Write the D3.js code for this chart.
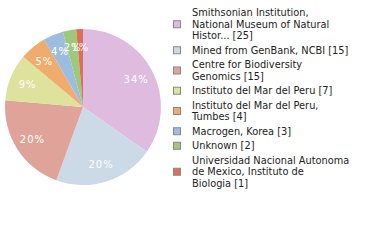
<!DOCTYPE html>
<html lang="en">
<head>
<meta charset="UTF-8">
<title>Sample sources</title>
<style>
    body { margin: 0; background: #fff; }
    .legend text { font-family: "DejaVu Sans", sans-serif; font-size: 9.8px; fill: #222; }
    .pct { font-family: "DejaVu Sans", sans-serif; font-size: 10px; fill: #fff; letter-spacing: 1px; text-anchor: middle; dominant-baseline: central; }
</style>
</head>
<body>
<svg width="380" height="240"></svg>
<script src="https://d3js.org/d3.v7.min.js"></script>
<script>
    // Data
    const labels = [
        ["Smithsonian Institution,", "National Museum of Natural", "Histor... [25]"],
        ["Mined from GenBank, NCBI [15]"],
        ["Centre for Biodiversity", "Genomics [15]"],
        ["Instituto del Mar del Peru [7]"],
        ["Instituto del Mar del Peru,", "Tumbes [4]"],
        ["Macrogen, Korea [3]"],
        ["Unknown [2]"],
        ["Universidad Nacional Autonoma", "de Mexico, Instituto de", "Biologia [1]"]
    ];
    const counts = [25, 15, 15, 7, 4, 3, 2, 1];
    const colors = ["#dfbbdf", "#ccd9e6", "#e0a39a", "#dde29c", "#f0ac6d", "#9dbde0", "#9dc97a", "#dd6e57"];

    const svg = d3.select("svg");
    const total = d3.sum(counts);

    // Pie
    const cx = 83, cy = 107, r = 78;
    const pie = d3.pie().sort(null).value(d => d);
    const arcs = pie(counts);
    const arc = d3.arc().innerRadius(0).outerRadius(r);
    const labelArc = d3.arc().innerRadius(60).outerRadius(60);

    const g = svg.append("g").attr("transform", `translate(${cx},${cy})`);

    g.selectAll("path")
        .data(arcs)
        .enter().append("path")
        .attr("d", arc)
        .attr("fill", (d, i) => colors[i]);

    g.selectAll(".pct")
        .data(arcs)
        .enter().append("text")
        .attr("class", "pct")
        .attr("transform", d => `translate(${labelArc.centroid(d)})`)
        .text(d => Math.floor(d.data / total * 100) + "%");

    // Legend
    const lineH = 11.5, gap = 3;
    const legend = svg.append("g").attr("class", "legend");
    let y = 7;
    labels.forEach((lines, i) => {
        const h = lines.length * lineH;
        const item = legend.append("g");
        item.append("rect")
            .attr("x", 173.5).attr("y", y + h / 2 - 3.5)
            .attr("width", 7).attr("height", 7)
            .attr("fill", colors[i])
            .attr("stroke", "#888").attr("stroke-width", 1);
        lines.forEach((t, j) => {
            item.append("text")
                .attr("x", 192)
                .attr("y", y + j * lineH + lineH / 2)
                .attr("dy", "0.35em")
                .text(t);
        });
        y += h + gap;
    });
</script>
</body>
</html>
